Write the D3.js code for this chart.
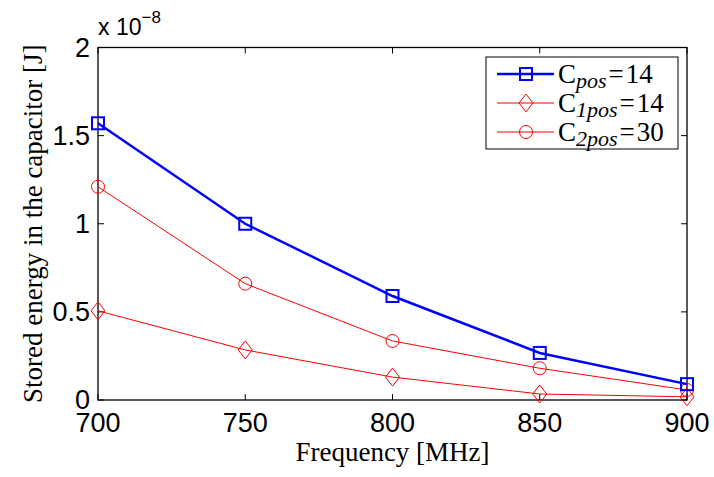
<!DOCTYPE html>
<html>
<head>
<meta charset="utf-8">
<script src="https://cdn.jsdelivr.net/npm/d3@7"></script>
<style>
body{margin:0;background:#fff;}
</style>
</head>
<body>
<svg id="chart" width="714" height="477"></svg>
<script>
// frequencies [MHz]
let freqs = [700, 750, 800, 850, 900];
// stored energy, in units of 1e-8 J
let cpos = [1.57, 1.0, 0.59, 0.267, 0.09];
let c1pos = [0.506, 0.284, 0.13, 0.034, 0.018];
let c2pos = [1.21, 0.66, 0.335, 0.18, 0.057];
let xticks = [700, 750, 800, 850, 900];
let yticks = [0, 0.5, 1, 1.5, 2];

let svg = d3.select("#chart");
let margin = {left:98, right:27, top:47.5, bottom:77};
let w = 714 - margin.left - margin.right;
let h = 477 - margin.top - margin.bottom;

let xscale = d3.scaleLinear().domain([700,900]).range([0,w]);
let yscale = d3.scaleLinear().domain([0,2]).range([h,0]);

let g = svg.append("g").attr("transform","translate("+margin.left+","+margin.top+")");

let sans = "'Liberation Sans', Arial, sans-serif";
let serif = "'Liberation Serif', 'DejaVu Serif', serif";

// ticks on all four sides (inward)
let tl = 6;
g.selectAll(".xt").data(xticks).enter().append("line")
  .attr("x1",d=>xscale(d)).attr("x2",d=>xscale(d))
  .attr("y1",h).attr("y2",h-tl).attr("stroke","black");
g.selectAll(".xt2").data(xticks).enter().append("line")
  .attr("x1",d=>xscale(d)).attr("x2",d=>xscale(d))
  .attr("y1",0).attr("y2",tl).attr("stroke","black");
g.selectAll(".yt").data(yticks).enter().append("line")
  .attr("x1",0).attr("x2",tl)
  .attr("y1",d=>yscale(d)).attr("y2",d=>yscale(d)).attr("stroke","black");
g.selectAll(".yt2").data(yticks).enter().append("line")
  .attr("x1",w).attr("x2",w-tl)
  .attr("y1",d=>yscale(d)).attr("y2",d=>yscale(d)).attr("stroke","black");

g.append("rect").attr("x",0).attr("y",0).attr("width",w).attr("height",h)
  .attr("fill","none").attr("stroke","black").attr("stroke-width",1.3);

g.selectAll(".xl").data(xticks).enter().append("text")
  .attr("x",d=>xscale(d)).attr("y",h+32)
  .attr("text-anchor","middle").attr("font-family",sans).attr("font-size",27)
  .text(d=>d);
g.selectAll(".yl").data(yticks).enter().append("text")
  .attr("x",-8).attr("y",d=>yscale(d)+9)
  .attr("text-anchor","end").attr("font-family",sans).attr("font-size",27)
  .text(d=>d);

// exponent
let ex = g.append("text").attr("x",0).attr("y",-12.5).attr("font-family",sans).attr("font-size",23);
ex.append("tspan").text("x 10");
ex.append("tspan").attr("dy",-12).attr("font-size",17).text("\u22128");

// axis titles
svg.append("text").attr("x",margin.left+w/2).attr("y",461)
  .attr("text-anchor","middle").attr("font-family",serif).attr("font-size",27)
  .text("Frequency [MHz]");
svg.append("text").attr("transform","translate(42,"+(margin.top+h/2)+") rotate(-90)")
  .attr("text-anchor","middle").attr("font-family",serif).attr("font-size",27)
  .text("Stored energy in the capacitor [J]");

let line = d3.line().x((d,i)=>xscale(freqs[i])).y(d=>yscale(d));

function drawMarker(sel, type, color){
  if(type=="square"){
    sel.append("rect").attr("x",-6).attr("y",-6).attr("width",12).attr("height",12)
      .attr("fill","none").attr("stroke",color).attr("stroke-width",2);
  } else if(type=="diamond"){
    sel.append("path").attr("d","M0,-9L7,0L0,9L-7,0Z")
      .attr("fill","none").attr("stroke",color).attr("stroke-width",1);
  } else {
    sel.append("circle").attr("r",6.5)
      .attr("fill","none").attr("stroke",color).attr("stroke-width",1);
  }
}

let series = [
  {vals:c1pos, color:"red", width:1, marker:"diamond"},
  {vals:c2pos, color:"red", width:1, marker:"circle"},
  {vals:cpos, color:"blue", width:2.5, marker:"square"}
];
series.forEach(s=>{
  g.append("path").datum(s.vals).attr("fill","none")
    .attr("stroke",s.color).attr("stroke-width",s.width).attr("d",line);
  s.vals.forEach((v,i)=>{
    let m = g.append("g").attr("transform","translate("+xscale(freqs[i])+","+yscale(v)+")");
    drawMarker(m, s.marker, s.color);
  });
});

// legend
let legItems = [
  {sub:"pos", val:"14", color:"blue", width:2.5, marker:"square"},
  {sub:"1pos", val:"14", color:"red", width:1, marker:"diamond"},
  {sub:"2pos", val:"30", color:"red", width:1, marker:"circle"}
];
let leg = svg.append("g").attr("transform","translate(486,57)");
leg.append("rect").attr("width",192).attr("height",92)
  .attr("fill","white").attr("stroke","black").attr("stroke-width",1);
legItems.forEach((d,i)=>{
  let y = 17 + i*29;
  leg.append("line").attr("x1",11).attr("x2",68).attr("y1",y).attr("y2",y)
    .attr("stroke",d.color).attr("stroke-width",d.width);
  let m = leg.append("g").attr("transform","translate(40,"+y+")");
  drawMarker(m, d.marker, d.color);
  let t = leg.append("text").attr("x",72).attr("y",y+9)
    .attr("font-family",serif).attr("font-size",27);
  t.append("tspan").text("C");
  t.append("tspan").attr("dy",5).attr("font-size",22)
    .attr("font-style","italic").text(d.sub);
  t.append("tspan").attr("dy",-5).attr("dx",2).text("=");
  t.append("tspan").attr("dx",2).text(d.val);
});
</script>
</body>
</html>
